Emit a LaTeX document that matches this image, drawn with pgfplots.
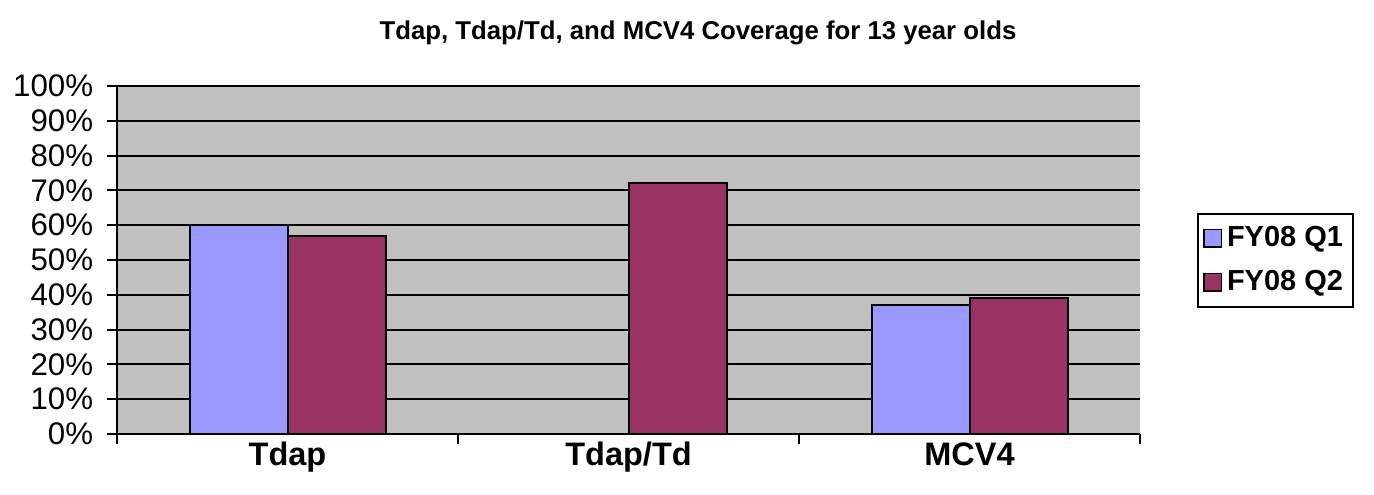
\documentclass[border=0pt]{standalone}
\usepackage{pgfplots}
\pgfplotsset{compat=1.18}
\usepackage{fontspec}
\setmainfont{Liberation Sans}
\definecolor{qone}{HTML}{9999FF}
\definecolor{qtwo}{HTML}{993366}
\definecolor{bg}{HTML}{C0C0C0}
\begin{document}
\begin{tikzpicture}[x=0.4pt,y=0.4pt]
\useasboundingbox (0,0) rectangle (1374,494);
\node[font=\bfseries\fontsize{10.3}{12}\selectfont] at (698,461) {Tdap, Tdap/Td, and MCV4 Coverage for 13 year olds};
\begin{axis}[
  at={(117*0.4pt,60*0.4pt)}, anchor=south west,
  scale only axis, width=409.2pt, height=139.2pt,
  xmin=-0.5, xmax=2.5, ymin=0, ymax=100,
  axis x line=bottom, axis y line=left,
  axis line style={line width=0.8pt,-},
  axis background/.style={fill=bg},
  ybar=0pt, bar width=39.2pt,
  ytick={0,10,...,100},
  yticklabel={\pgfmathprintnumber{\tick}\%},
  /pgf/number format/assume math mode=true,
  yticklabel style={font=\fontsize{12.5}{14}\selectfont, xshift=-2pt},
  ymajorgrids, grid style={black, line width=0.8pt},
  xtick={0,1,2}, xticklabels={Tdap,Tdap/Td,MCV4},
  xticklabel style={font=\bfseries\fontsize{13}{15}\selectfont, yshift=4.2pt},
  minor xtick={-0.5,0.5,1.5,2.5},
  tick align=outside,
  major tick length=4pt,
  x tick style={draw=none},
  minor x tick style={draw=black, line width=0.8pt},
  minor tick length=4pt,
  y tick style={black, line width=0.8pt},
  legend style={at={(1197*0.4pt-117*0.4pt,281*0.4pt-60*0.4pt)}, anchor=north west, draw=black, line width=0.8pt, font=\bfseries\fontsize{11.6}{13}\selectfont, inner xsep=2pt, inner ysep=3pt, row sep=4pt},
  legend cell align=left,
  legend image code/.code={\draw[#1, line width=0.6pt] (0pt,-3.5pt) rectangle (7pt,3.5pt);},
]
\addplot[fill=qone, draw=black, line width=0.8pt] coordinates {(0,60) (2,37)};
\addplot[fill=qtwo, draw=black, line width=0.8pt] coordinates {(0,57) (1,72) (2,39)};
\legend{FY08 Q1, FY08 Q2}
\end{axis}
\end{tikzpicture}
\end{document}
